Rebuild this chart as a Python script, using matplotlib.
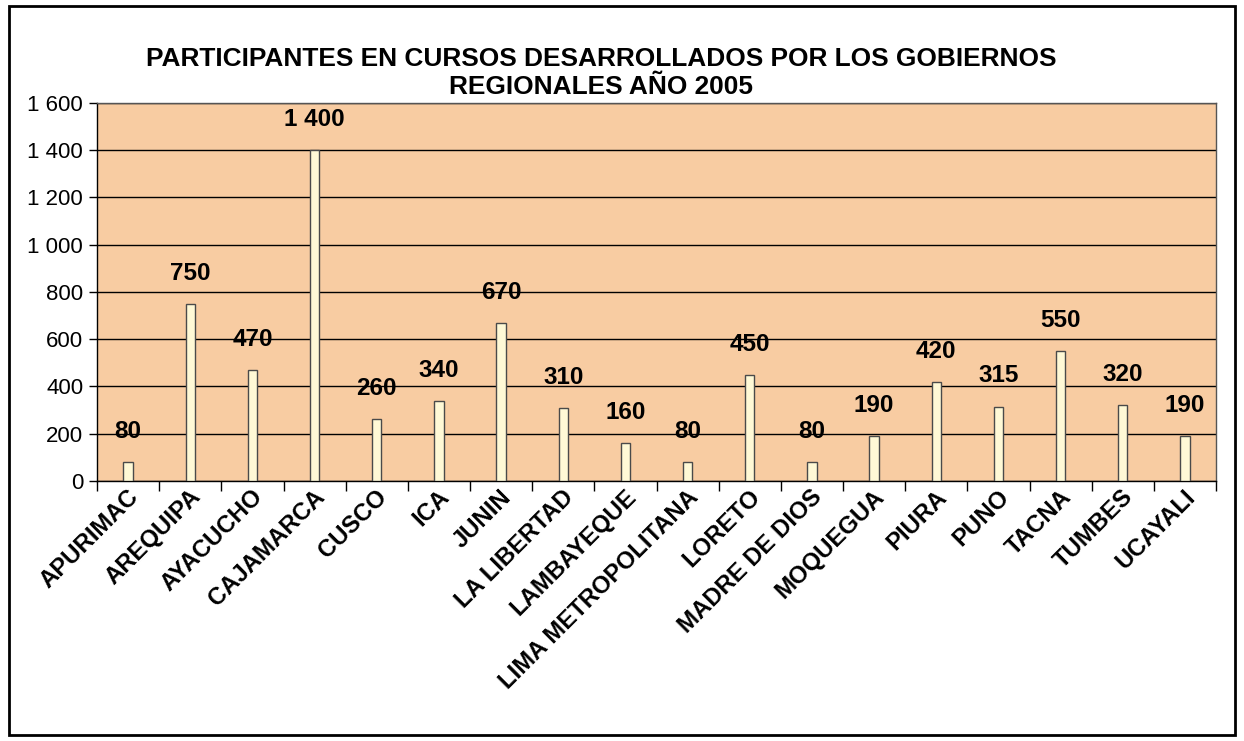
import matplotlib.pyplot as plt
import matplotlib.ticker as mticker
from matplotlib.patches import Rectangle
from matplotlib.transforms import ScaledTranslation
import numpy as np

plt.rcParams['font.family'] = ['Liberation Sans', 'DejaVu Sans']

regiones = ['APURIMAC', 'AREQUIPA', 'AYACUCHO', 'CAJAMARCA', 'CUSCO', 'ICA', 'JUNIN',
            'LA LIBERTAD', 'LAMBAYEQUE', 'LIMA METROPOLITANA', 'LORETO', 'MADRE DE DIOS',
            'MOQUEGUA', 'PIURA', 'PUNO', 'TACNA', 'TUMBES', 'UCAYALI']
participantes = [80, 750, 470, 1400, 260, 340, 670, 310, 160, 80, 450, 80,
                 190, 420, 315, 550, 320, 190]

fig = plt.figure(figsize=(12.44, 7.41), dpi=100)
ax = fig.add_axes([0.078, 0.351, 0.8995, 0.510])
ax.set_facecolor('#F8CCA2')

x = np.arange(len(regiones))
ax.bar(x, participantes, width=0.15, color='#FFF9D6', edgecolor='#4a4a4a', linewidth=1, zorder=3)

for xi, v in zip(x, participantes):
    label = f'{v:,}'.replace(',', ' ')
    ax.annotate(label, (xi, v), xytext=(0, 22), textcoords='offset points',
                ha='center', va='center', fontsize=17.5, fontweight='bold', zorder=4)

ax.set_ylim(0, 1600)
ax.set_xlim(-0.5, len(regiones) - 0.5)
ax.set_yticks(np.arange(0, 1601, 200))
ax.yaxis.set_major_formatter(mticker.FuncFormatter(lambda v, p: f'{int(v):,}'.replace(',', ' ')))
ax.grid(axis='y', color='black', linewidth=1, zorder=1)
ax.tick_params(axis='y', labelsize=16, length=6, width=1, direction='out', pad=4)

# category ticks sit between bars
ax.set_xticks(np.arange(-0.5, len(regiones), 1))
ax.set_xticklabels([])
ax.tick_params(axis='x', length=7, width=1, direction='out')
ax.set_xticks(x, minor=True)
ax.set_xticklabels(regiones, minor=True, rotation=45, ha='right', va='center',
                   rotation_mode='anchor', fontsize=17.2, fontweight='bold')
ax.tick_params(axis='x', which='minor', length=0, pad=9)
offset = ScaledTranslation(5 / 72, 0, fig.dpi_scale_trans)
for lbl in ax.get_xticklabels(minor=True):
    lbl.set_transform(lbl.get_transform() + offset)

for s in ax.spines.values():
    s.set_color('black')
    s.set_linewidth(1)
ax.spines['top'].set_color('#555555')
ax.spines['right'].set_color('#555555')

fig.text(0.483, 0.901, 'PARTICIPANTES EN CURSOS DESARROLLADOS POR LOS GOBIERNOS\nREGIONALES AÑO 2005',
         ha='center', va='center', fontsize=18.9, fontweight='bold', linespacing=1.22)

fig.patches.append(Rectangle((0.007, 0.008), 0.986, 0.984, transform=fig.transFigure,
                             fill=False, edgecolor='black', linewidth=2))

fig.savefig('out.png', dpi=100)
